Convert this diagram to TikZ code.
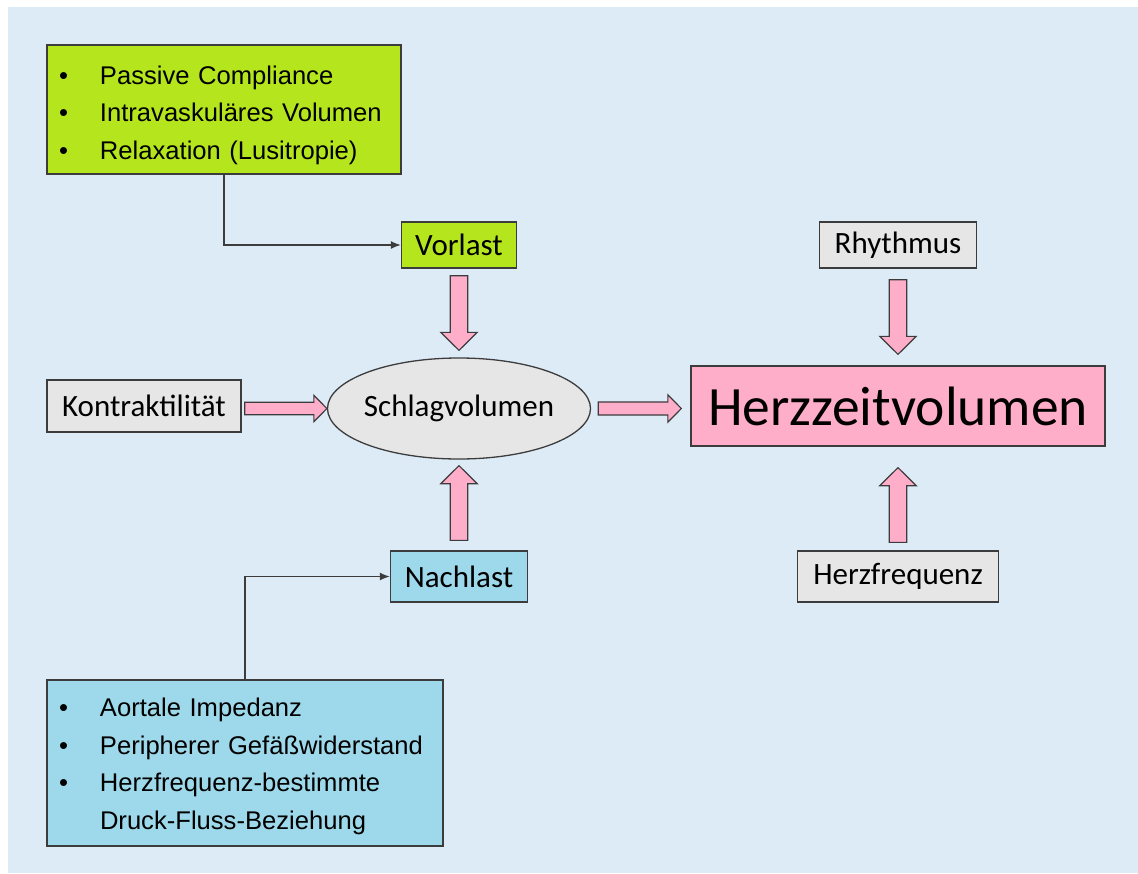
\documentclass[tikz,border=0pt]{standalone}
\usepackage{fontspec}
\setmainfont{Carlito}
\newfontfamily\arialfont{Liberation Sans}
\usepackage{xcolor}
\usepackage{tikz}
\usetikzlibrary{arrows.meta,calc,positioning,shapes.geometric}
\definecolor{hbg}{HTML}{DDEBF7}
\definecolor{hgreen}{HTML}{B5E61D}
\definecolor{hcyan}{HTML}{9DD9EA}
\definecolor{hgray}{HTML}{E6E6E6}
\definecolor{hpink}{HTML}{FFAEC9}
\definecolor{hline}{HTML}{3C3C3C}
\tikzset{
  >={Latex[length=10pt,width=8pt]},
  hbox/.style={draw=hline, line width=1.3pt, inner sep=0pt, font=\hlabel},
  hlist/.style={draw=hline, line width=1.3pt, align=left, inner xsep=12pt,
                inner ysep=0pt, font=\hlistfont},
  hell/.style={ellipse, draw=hline, line width=1.3pt, fill=hgray, inner sep=0pt,
               minimum width=263pt, minimum height=101pt},
  hlink/.style={->, hline, line width=1.5pt},
  hfat/.style={draw=hline, fill=hpink, line width=1.2pt, line join=miter},
}
\newcommand{\hlabel}{\fontsize{31}{37}\selectfont}
\newcommand{\hlistfont}{\arialfont\fontsize{25.6}{37.5}\selectfont}
\newcommand{\hitem}[1]{\makebox[41pt][l]{\textbullet}#1}
\newcommand{\hlow}[1]{\rule{0pt}{#1}}
% Blockpfeil: [Groesse]{von}{nach}
\newcommand{\fatarrow}[3][1]{%
  \coordinate (fa-s) at (#2);
  \coordinate (fa-e) at (#3);
  \coordinate (fa-h) at ($(fa-e)!#1*18pt!(fa-s)$);
  \draw[hfat] ($(fa-s)!#1*8.75pt!90:(fa-e)$)
    -- ($(fa-h)!#1*8.75pt!90:(fa-e)$) -- ($(fa-h)!#1*18.25pt!90:(fa-e)$)
    -- (fa-e)
    -- ($(fa-h)!#1*18.25pt!-90:(fa-e)$) -- ($(fa-h)!#1*8.75pt!-90:(fa-e)$)
    -- ($(fa-s)!#1*8.75pt!-90:(fa-e)$) -- cycle;
}
\begin{document}
\begin{tikzpicture}[x=1pt, y=-1pt]

  % Hintergrund
  \useasboundingbox (0,0) rectangle (1138,873);
  \fill[hbg] (8,7) rectangle (1138,873);

  % Einflussgroessen
  \node[hlist, fill=hgreen, text width=330pt, minimum height=129pt] (pre) at (224,109.5)
    {\hlow{30pt}\hitem{Passive Compliance}\\ \hitem{Intravaskuläres Volumen}\\ \hitem{Relaxation (Lusitropie)}};
  \node[hlist, fill=hcyan, text width=372pt, minimum height=166pt] (post) at (245,763)
    {\hlow{25pt}\hitem{Aortale Impedanz}\\ \hitem{Peripherer Gefäßwiderstand}\\
     \hitem{Herzfrequenz-bestimmte}\\ \hspace*{41pt}Druck-Fluss-Beziehung};

  % Vorlast, Nachlast, Kontraktilitaet
  \node[hbox, fill=hgreen, minimum width=115pt, minimum height=46pt] (vor) at (459,245) {Vorlast};
  \node[hbox, fill=hcyan, minimum width=137pt, minimum height=51pt] (nach) at (459,576.5) {Nachlast};
  \node[hbox, fill=hgray, minimum width=194pt, minimum height=52pt] (kon) at (144,406) {Kontraktilität};

  % Schlagvolumen
  \node[hell, label={center:{\hlabel Schlagvolumen}}] (sv) at (459,408.5) {};

  % Herzzeitvolumen und Nebengroessen
  \node[hbox, fill=hpink, minimum width=414pt, minimum height=80pt,
        font=\fontsize{55.5}{60}\selectfont] (hzv) at (898,406) {Herzzeitvolumen};
  \node[hbox, fill=hgray, minimum width=157pt, minimum height=46pt] (rhy) at (898,245) {Rhythmus};
  \node[hbox, fill=hgray, minimum width=201pt, minimum height=51pt] (hf) at (898,576.5) {Herzfrequenz};

  % duenne Verbindungen
  \draw[hlink] (pre.south) |- (vor.west);
  \draw[hlink] (post.north) |- (nach.west);

  % Blockpfeile
  \fatarrow{[yshift=-7pt]vor.south}{[yshift=7pt]sv.north}
  \fatarrow{[yshift=10pt]nach.north}{[yshift=-6pt]sv.south}
  \fatarrow[0.72]{[xshift=3pt]kon.east |- sv.west}{sv.west}
  \fatarrow[0.75]{[xshift=7pt]sv.east}{[xshift=-9pt]hzv.west |- sv.east}
  \fatarrow{[yshift=-11pt]rhy.south}{[yshift=11pt]hzv.north}
  \fatarrow{[yshift=8pt]hf.north}{[yshift=-21pt]hzv.south}

\end{tikzpicture}
\end{document}
